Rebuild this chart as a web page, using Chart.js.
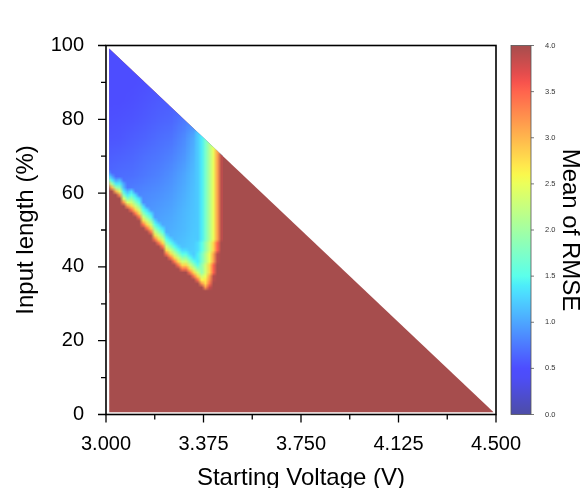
<!DOCTYPE html>
<html>
<head>
<meta charset="utf-8">
<script src="https://cdn.jsdelivr.net/npm/chart.js@4.4.0/dist/chart.umd.min.js"></script>
<style>
  body { margin: 0; background: #fff; }
</style>
</head>
<body>
<canvas id="rmseChart" width="584" height="488"></canvas>
<script>
// axis ticks
const xMajor = [3.0, 3.375, 3.75, 4.125, 4.5];
const xMinor = [3.1875, 3.5625, 3.9375, 4.3125];
const yMajor = [0, 20, 40, 60, 80, 100];
const yMinor = [10, 30, 50, 70, 90];
const cbTicks = [0, 0.5, 1, 1.5, 2, 2.5, 3, 3.5, 4];

// computed region: upper edge runs down the diagonal, everything under it is 4.0 unless the grids say otherwise
const edgeX = [3.012, 4.491];
const edgeY = [99.2, 0.6];
const edgeFloor = 0.6;
const edgeValue = 4.0;

// smooth blue part of the low-RMSE corner, coarse grid (centres)
const bgX = [3.0, 3.05, 3.1, 3.15, 3.2, 3.25, 3.3, 3.35, 3.4, 3.45];
const bgY = [100, 95, 90, 85, 80, 75, 70, 65, 60, 55, 50, 45, 40, 35];
const bgRows = [
  [0.45, 0.45, 0.50, 0.50, 0.50, 0.50, 0.50, 0.50, 0.50, 0.50],
  [0.45, 0.48, 0.50, 0.50, 0.50, 0.50, 0.50, 0.50, 0.50, 0.50],
  [0.48, 0.50, 0.50, 0.52, 0.55, 0.55, 0.60, 0.60, 0.60, 0.60],
  [0.50, 0.50, 0.52, 0.55, 0.58, 0.60, 0.65, 0.70, 0.70, 0.70],
  [0.52, 0.53, 0.55, 0.58, 0.62, 0.65, 0.75, 0.90, 0.95, 0.95],
  [0.55, 0.56, 0.60, 0.63, 0.68, 0.72, 0.85, 1.10, 1.20, 1.20],
  [0.60, 0.62, 0.65, 0.70, 0.74, 0.80, 0.92, 1.15, 1.25, 1.25],
  [0.65, 0.68, 0.70, 0.75, 0.80, 0.88, 1.00, 1.18, 1.25, 1.25],
  [0.72, 0.75, 0.80, 0.84, 0.88, 0.94, 1.05, 1.20, 1.25, 1.25],
  [0.80, 0.84, 0.88, 0.90, 0.95, 1.00, 1.10, 1.20, 1.25, 1.25],
  [0.90, 0.92, 0.95, 1.00, 1.02, 1.06, 1.12, 1.22, 1.25, 1.25],
  [1.00, 1.00, 1.02, 1.05, 1.08, 1.12, 1.18, 1.25, 1.30, 1.30],
  [1.10, 1.10, 1.10, 1.12, 1.15, 1.20, 1.25, 1.30, 1.35, 1.35],
  [1.20, 1.20, 1.20, 1.20, 1.25, 1.30, 1.35, 1.35, 1.40, 1.40]
];

// sharp edges of the low-RMSE corner, fine grid (centres)
const cellX = [3.0075, 3.0225, 3.0375, 3.0525, 3.0675, 3.0825, 3.0975, 3.1125, 3.1275, 3.1425,
               3.1575, 3.1725, 3.1875, 3.2025, 3.2175, 3.2325, 3.2475, 3.2625, 3.2775, 3.2925,
               3.3075, 3.3225, 3.3375, 3.3525, 3.3675, 3.3825, 3.3975, 3.4125, 3.4275, 3.4425];
const cellY = [77.5, 76.5, 75.5, 74.5, 73.5, 72.5, 71.5, 70.5,
               69.5, 68.5, 67.5, 66.5, 65.5, 64.5, 63.5, 62.5, 61.5, 60.5,
               59.5, 58.5, 57.5, 56.5, 55.5, 54.5, 53.5, 52.5, 51.5, 50.5,
               49.5, 48.5, 47.5, 46.5, 45.5, 44.5, 43.5, 42.5, 41.5, 40.5,
               39.5, 38.5, 37.5, 36.5, 35.5, 34.5, 33.5];
// one char per cell (spaces only for reading), value = LEVELS.indexOf(ch) / 10, '.' = blue part
const LEVELS = '0123456789ABCDEFGHIJKLMNOPQRSTUVWXYZabcde';
const cellRows = [
  '',
  '..... ..... ..... ..... ... C',
  '..... ..... ..... ..... ... CE',
  '..... ..... ..... ..... ... CEH',
  '..... ..... ..... ..... ... CEHL',
  '..... ..... ..... ..... ... CEHLP',
  '..... ..... ..... ..... ... CEHLPV',
  '..... ..... ..... ..... ... CEHLPVd',
  '..... ..... ..... ..... ... CEHLPVd',
  '..... ..... ..... ..... ... CEHLPVd',
  '..... ..... ..... ..... ... CEHLPVd',
  '..... ..... ..... ..... ... CEHLPVd',
  'A.... ..... ..... ..... ... CEHLPVd',
  'EA... ..... ..... ..... ... CEHLPVd',
  'KEAB. ..... ..... ..... ... CEHLPVd',
  'UKEEA ..... ..... ..... ... CEHLPVd',
  'eUKIB ..... ..... ..... ... CEHLPVd',
  'eeUOE BD... ..... ..... ... CEHLPVd',
  'eeeWI EFD.. ..... ..... ... CEHLPVd',
  'eeeeO IJFD. ..... ..... ... CEHLPVd',
  'eeeeW ONJF. ..... ..... ... CEHLPVd',
  'eeeee WSNJD ..... ..... ... CEHLPVd',
  'eeeee eYSNF D.... ..... ... CEHLPVd',
  'eeeee eeYSJ FD... ..... ... CEHLPVd',
  'eeeee eeeYN JF... ..... ... CEHLPVd',
  'eeeee eeeeS NJD.. ..... ... CEHLPVd',
  'eeeee eeeeY SNFD. ..... ... CEHLPVd',
  'eeeee eeeee YSJFD ..... ... CEHLPVd',
  'eeeee eeeee eYNJF ..... ... CEHLPVd',
  'eeeee eeeee eeSNJ D.... ... CEHLPVd',
  'eeeee eeeee eeYSN FD... ... CEHLPVd',
  'eeeee eeeee eeeYS JFD.. ... DFJNSZe',
  'eeeee eeeee eeeeY NJFD. ... DFJNSZe',
  'eeeee eeeee eeeee SNJFD D.. DFJNSZe',
  'eeeee eeeee eeeee YSNJF FD CEHLPVde',
  'eeeee eeeee eeeee eYSNJ JF DEHLPVde',
  'eeeee eeeee eeeee eeYSN NJ FEHLPVde',
  'eeeee eeeee eeeee eeeYS SN JFJNSZee',
  'eeeee eeeee eeeee eeeeY YS NJJNSZee',
  'eeeee eeeee eeeee eeeee eY SNJNSZee',
  'eeeee eeeee eeeee eeeee ee YSNPVdee',
  'eeeee eeeee eeeee eeeee eee YQRWdee',
  'eeeee eeeee eeeee eeeee eeee WSYeee',
  'eeeee eeeee eeeee eeeee eeeee Wceee',
  'eeeee eeeee eeeee eeeee eeeee eeeee'
];

const FONT = "'Liberation Sans', Arial, Helvetica, sans-serif";

// jet colour map at 70% opacity over white, 0..4
function jet(v) {
  const t = Math.min(Math.max(v / 4, 0), 1);
  const seg = pts => {
    for (let k = 1; k < pts.length; k++) {
      if (t <= pts[k][0]) {
        const [t0, a] = pts[k - 1], [t1, b] = pts[k];
        return a + (b - a) * (t - t0) / (t1 - t0);
      }
    }
    return pts[pts.length - 1][1];
  };
  const r = seg([[0, 0], [0.35, 0], [0.66, 1], [0.89, 1], [1, 0.5]]);
  const g = seg([[0, 0], [0.125, 0], [0.375, 1], [0.64, 1], [0.91, 0], [1, 0]]);
  const b = seg([[0, 0.5], [0.11, 1], [0.34, 1], [0.65, 0], [1, 0]]);
  const alpha = 0.7;
  return [r, g, b].map(c => Math.round(255 * (1 - alpha) + 255 * alpha * c));
}
const rgb = c => 'rgb(' + c.join(',') + ')';

// one pixel per cell; valueAt returns null for an empty cell
function layerCanvas(nx, ny, valueAt) {
  const off = document.createElement('canvas');
  off.width = nx;
  off.height = ny;
  const octx = off.getContext('2d');
  const img = octx.createImageData(nx, ny);
  for (let r = 0; r < ny; r++) {
    for (let i = 0; i < nx; i++) {
      const v = valueAt(i, r);
      if (v === null) continue;
      const c = jet(v);
      const k = (r * nx + i) * 4;
      img.data[k] = c[0];
      img.data[k + 1] = c[1];
      img.data[k + 2] = c[2];
      img.data[k + 3] = 255;
    }
  }
  octx.putImageData(img, 0, 0);
  return off;
}

function drawLayer(ctx, x, y, xs, ys, canvas) {
  const hx = (xs[1] - xs[0]) / 2, hy = (ys[0] - ys[1]) / 2;
  const left = x.getPixelForValue(xs[0] - hx), right = x.getPixelForValue(xs[xs.length - 1] + hx);
  const top = y.getPixelForValue(ys[0] + hy), bottom = y.getPixelForValue(ys[ys.length - 1] - hy);
  ctx.drawImage(canvas, left, top, right - left, bottom - top);
}

const heatPlugin = {
  id: 'heat',
  afterDatasetsDraw(chart) {
    const {ctx, scales: {x, y}} = chart;

    const bg = layerCanvas(bgX.length, bgY.length, (i, r) => bgRows[r][i]);
    const fineRows = cellRows.map(s => s.replace(/ /g, ''));
    const fine = layerCanvas(cellX.length, cellY.length, (i, r) => {
      const row = fineRows[r];
      // past the diagonal: repeat the last cell, it is clipped away
      const ch = row.length ? row[Math.min(i, row.length - 1)] : '.';
      return ch === '.' ? null : LEVELS.indexOf(ch) / 10;
    });

    ctx.save();
    ctx.beginPath();
    ctx.moveTo(x.getPixelForValue(edgeX[0]), y.getPixelForValue(edgeY[0]));
    ctx.lineTo(x.getPixelForValue(edgeX[1]), y.getPixelForValue(edgeY[1]));
    ctx.lineTo(x.getPixelForValue(edgeX[1]), y.getPixelForValue(edgeFloor));
    ctx.lineTo(x.getPixelForValue(edgeX[0]), y.getPixelForValue(edgeFloor));
    ctx.closePath();
    ctx.clip();
    ctx.imageSmoothingEnabled = true;
    ctx.imageSmoothingQuality = 'low';
    // blue part, limited to the columns the fine grid covers
    ctx.save();
    const gx0 = x.getPixelForValue(cellX[0] - 0.0075), gx1 = x.getPixelForValue(cellX[cellX.length - 1] + 0.0075);
    const gy0 = y.getPixelForValue(bgY[0] + 2.5), gy1 = y.getPixelForValue(cellY[cellY.length - 1]);
    ctx.beginPath();
    ctx.rect(gx0, gy0, gx1 - gx0, gy1 - gy0);
    ctx.clip();
    drawLayer(ctx, x, y, bgX, bgY, bg);
    ctx.restore();
    drawLayer(ctx, x, y, cellX, cellY, fine);
    ctx.restore();
  }
};

const framePlugin = {
  id: 'frame',
  afterDraw(chart) {
    const {ctx, chartArea: a, scales: {x, y, cb}} = chart;
    ctx.save();
    ctx.strokeStyle = '#000';
    ctx.lineWidth = 1.6;
    ctx.strokeRect(a.left, a.top, a.right - a.left, a.bottom - a.top);

    ctx.lineWidth = 1.3;
    ctx.beginPath();
    xMajor.forEach(v => { const p = x.getPixelForValue(v); ctx.moveTo(p, a.bottom); ctx.lineTo(p, a.bottom + 8); });
    xMinor.forEach(v => { const p = x.getPixelForValue(v); ctx.moveTo(p, a.bottom); ctx.lineTo(p, a.bottom + 5); });
    yMajor.forEach(v => { const p = y.getPixelForValue(v); ctx.moveTo(a.left, p); ctx.lineTo(a.left - 8, p); });
    yMinor.forEach(v => { const p = y.getPixelForValue(v); ctx.moveTo(a.left, p); ctx.lineTo(a.left - 5, p); });
    ctx.stroke();

    // colour bar
    const top = cb.getPixelForValue(4), bot = cb.getPixelForValue(0);
    const bx = a.right + 15, bw = 20;
    const grad = ctx.createLinearGradient(0, bot, 0, top);
    for (let k = 0; k <= 40; k++) grad.addColorStop(k / 40, rgb(jet(k / 10)));
    ctx.fillStyle = grad;
    ctx.fillRect(bx, top, bw, bot - top);
    ctx.strokeStyle = '#555';
    ctx.lineWidth = 0.8;
    ctx.strokeRect(bx, top, bw, bot - top);
    ctx.beginPath();
    cbTicks.forEach(v => { const p = cb.getPixelForValue(v); ctx.moveTo(bx + bw, p); ctx.lineTo(bx + bw + 3, p); });
    ctx.stroke();
    ctx.restore();
  }
};

let ctx = document.getElementById('rmseChart').getContext('2d');
let rmseChart = new Chart(ctx, {
  type: 'line',
  data: {
    datasets: [{
      data: edgeX.map((v, k) => ({x: v, y: edgeY[k]})),
      fill: {value: edgeFloor},
      backgroundColor: rgb(jet(edgeValue)),
      borderColor: 'rgba(0,0,0,0)',
      borderWidth: 0,
      pointRadius: 0,
      tension: 0
    }]
  },
  options: {
    responsive: false,
    animation: false,
    layout: { padding: { top: 26 } },
    plugins: { legend: { display: false }, tooltip: { enabled: false } },
    scales: {
      x: {
        type: 'linear',
        min: 3,
        max: 4.5,
        afterBuildTicks: s => { s.ticks = xMajor.map(v => ({value: v})); },
        afterFit: s => { s.height = 73.5; },
        grid: { display: false },
        border: { display: false },
        ticks: {
          callback: v => v.toFixed(3),
          font: { family: FONT, size: 20 },
          color: '#000',
          padding: 10,
          maxRotation: 0,
          autoSkip: false
        },
        title: {
          display: true,
          text: 'Starting Voltage (V)',
          font: { family: FONT, size: 24 },
          color: '#000',
          padding: { top: 0, bottom: -5 }
        }
      },
      y: {
        type: 'linear',
        min: 0,
        max: 100,
        afterBuildTicks: s => { s.ticks = yMajor.map(v => ({value: v})); },
        afterFit: s => { s.width = 106; },
        grid: { display: false },
        border: { display: false },
        ticks: {
          callback: v => String(v),
          font: { family: FONT, size: 20 },
          color: '#000',
          padding: 14,
          autoSkip: false
        },
        title: {
          display: true,
          text: 'Input length (%)',
          font: { family: FONT, size: 24 },
          color: '#000',
          padding: { top: 12, bottom: 0 }
        }
      },
      cb: {
        type: 'linear',
        position: 'right',
        min: 0,
        max: 4,
        afterBuildTicks: s => { s.ticks = cbTicks.map(v => ({value: v})); },
        afterFit: s => { s.width = 88; },
        grid: { display: false },
        border: { display: false },
        ticks: {
          callback: v => v.toFixed(1),
          font: { family: FONT, size: 7.5 },
          color: '#333',
          padding: 41,
          autoSkip: false
        },
        title: {
          display: true,
          text: 'Mean of RMSE',
          font: { family: FONT, size: 24 },
          color: '#000',
          padding: 0
        }
      }
    }
  },
  plugins: [heatPlugin, framePlugin]
});
</script>
</body>
</html>
